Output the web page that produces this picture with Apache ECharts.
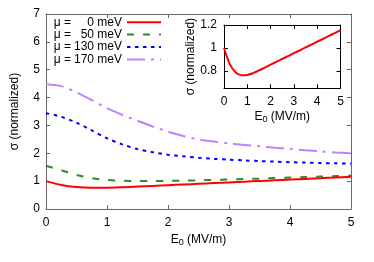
<!DOCTYPE html>
<html><head><meta charset="utf-8">
<script src="https://cdn.jsdelivr.net/npm/echarts@6/dist/echarts.min.js"></script>
<style>html,body{margin:0;padding:0;background:#fff}#c{width:374px;height:262px}</style>
</head><body><div id="c"></div>
<script>
const E0 = [0,0.25,0.5,0.75,1,1.25,1.5,1.75,2,2.25,2.5,2.75,3,3.25,3.5,3.75,4,4.25,4.5,4.75,5];
const mu0 = [1.0,0.86,0.787,0.764,0.766,0.782,0.805,0.83,0.855,0.88,0.905,0.93,0.955,0.98,1.005,1.03,1.055,1.08,1.105,1.13,1.155];
const mu50 = [1.55,1.39,1.22,1.11,1.04,1.015,1.005,1.003,1.01,1.018,1.03,1.045,1.06,1.075,1.09,1.11,1.13,1.148,1.165,1.183,1.2];
const mu130 = [3.44,3.31,3.1,2.82,2.54,2.32,2.15,2.04,1.95,1.89,1.84,1.8,1.77,1.745,1.72,1.7,1.68,1.665,1.65,1.64,1.63];
const mu170 = [4.48,4.41,4.18,3.91,3.62,3.38,3.17,2.96,2.78,2.62,2.5,2.42,2.35,2.3,2.25,2.2,2.16,2.11,2.07,2.03,2.0];
const muLabels = ['0','50','130','170'];
const xTicks = [0,1,2,3,4,5];
const yTicksMain = [0,1,2,3,4,5,6,7];
const yTicksInset = [0.8,1,1.2];

const pair = (ys) => E0.map((x,i)=>[x,ys[i]]);
const FONT = 'Liberation Sans';
const names = muLabels.map(m => 'μ = ' + m + ' meV');
const colors = ['#ff0000','#2e8b2e','#0000ff','#c080ff'];
const dashes = ['solid',[7,9],[3.5,4.5],[18,6,3,6]];
const dataSets = [mu0, mu50, mu130, mu170];

const grey = '#666';
function axisCommon(col, show){
  return {
    axisLine:{show:true,onZero:false,lineStyle:{color:col,width:1}},
    axisTick:{show:true,inside:true,length:4,lineStyle:{color:col}},
    splitLine:{show:false},
    axisLabel:{show:show,color:'#000',fontFamily:FONT,fontSize:12}
  };
}

const series = dataSets.map((d,i)=>({
  name:names[i], type:'line', xAxisIndex:0, yAxisIndex:0,
  data:pair(d), smooth:0.3, showSymbol:false, symbol:'none',
  lineStyle:{color:colors[i],width:2,type:dashes[i]}, itemStyle:{color:colors[i]},
  z:3+(3-i), silent:true
}));
series.push({
  name:'inset', type:'line', xAxisIndex:2, yAxisIndex:2,
  data:pair(mu0), smooth:0.3, showSymbol:false, symbol:'none',
  lineStyle:{color:'#ff0000',width:2}, itemStyle:{color:'#ff0000'}, silent:true, z:12
});

const subRich = {s:{fontSize:9,verticalAlign:'bottom',padding:[6,0,0,0],fontFamily:FONT,color:'#000'}};
const opt = {
  animation:false,
  textStyle:{fontFamily:FONT},
  grid:[
    {left:46,top:14,right:23,bottom:53},
    {left:224,top:25,width:116.5,height:63.3}
  ],
  xAxis:[
    Object.assign(axisCommon(grey,true),{type:'value',gridIndex:0,min:0,max:5,interval:1,
      axisLabel:{color:'#000',fontFamily:FONT,fontSize:12,margin:8},
      name:'E{s|0} (MV/m)',nameLocation:'middle',nameGap:17,
      nameTextStyle:{color:'#000',fontFamily:FONT,fontSize:12,rich:subRich}}),
    Object.assign(axisCommon(grey,false),{type:'value',gridIndex:0,min:0,max:5,interval:1,position:'top'}),
    Object.assign(axisCommon('#000',true),{type:'value',gridIndex:1,min:0,max:5,interval:1,z:11,
      axisLabel:{color:'#000',fontFamily:FONT,fontSize:12,margin:7},
      name:'E{s|0} (MV/m)',nameLocation:'middle',nameGap:21,
      nameTextStyle:{color:'#000',fontFamily:FONT,fontSize:12,rich:subRich}}),
    Object.assign(axisCommon('#000',false),{type:'value',gridIndex:1,min:0,max:5,interval:1,position:'top',z:11})
  ],
  yAxis:[
    Object.assign(axisCommon(grey,true),{type:'value',gridIndex:0,min:0,max:7,interval:1,
      axisLabel:{color:'#000',fontFamily:FONT,fontSize:12,margin:6},
      name:'σ (normalized)',nameLocation:'middle',nameGap:25,nameRotate:90,
      nameTextStyle:{color:'#000',fontFamily:FONT,fontSize:12}}),
    Object.assign(axisCommon(grey,false),{type:'value',gridIndex:0,min:0,max:7,interval:1,position:'right'}),
    Object.assign(axisCommon('#000',true),{type:'value',gridIndex:1,min:0.65,max:1.2,z:11,
      axisLabel:{color:'#000',fontFamily:FONT,fontSize:12,margin:7,
        customValues:yTicksInset, formatter:v=>String(Math.round(v*10)/10)},
      axisTick:{show:true,inside:true,length:4,lineStyle:{color:'#000'},customValues:yTicksInset},
      name:'σ (normalized)',nameLocation:'middle',nameGap:27,nameRotate:90,
      nameTextStyle:{color:'#000',fontFamily:FONT,fontSize:12}}),
    Object.assign(axisCommon('#000',false),{type:'value',gridIndex:1,min:0.65,max:1.2,position:'right',z:11,
      axisTick:{show:true,inside:true,length:4,lineStyle:{color:'#000'},customValues:yTicksInset}})
  ],
  legend:{
    data:names, orient:'vertical', left:51, top:16, padding:0, itemGap:0,
    align:'right', itemWidth:34, itemHeight:10,
    selectedMode:false,
    itemStyle:{opacity:0,borderWidth:0},
    textStyle:{fontFamily:FONT,fontSize:12,color:'#000',lineHeight:12.4,
      rich:{a:{width:20,fontSize:12,fontFamily:FONT,color:'#000',lineHeight:12.4},b:{width:51,align:'right',fontSize:12,fontFamily:FONT,color:'#000',lineHeight:12.4}}},
    formatter:(n)=>{const i=names.indexOf(n);return '{a|μ =}{b|'+muLabels[i]+' meV}';}
  },
  series:series
};
const chart = echarts.init(document.getElementById('c'),null,{renderer:'canvas'});
chart.setOption(opt);
</script></body></html>
